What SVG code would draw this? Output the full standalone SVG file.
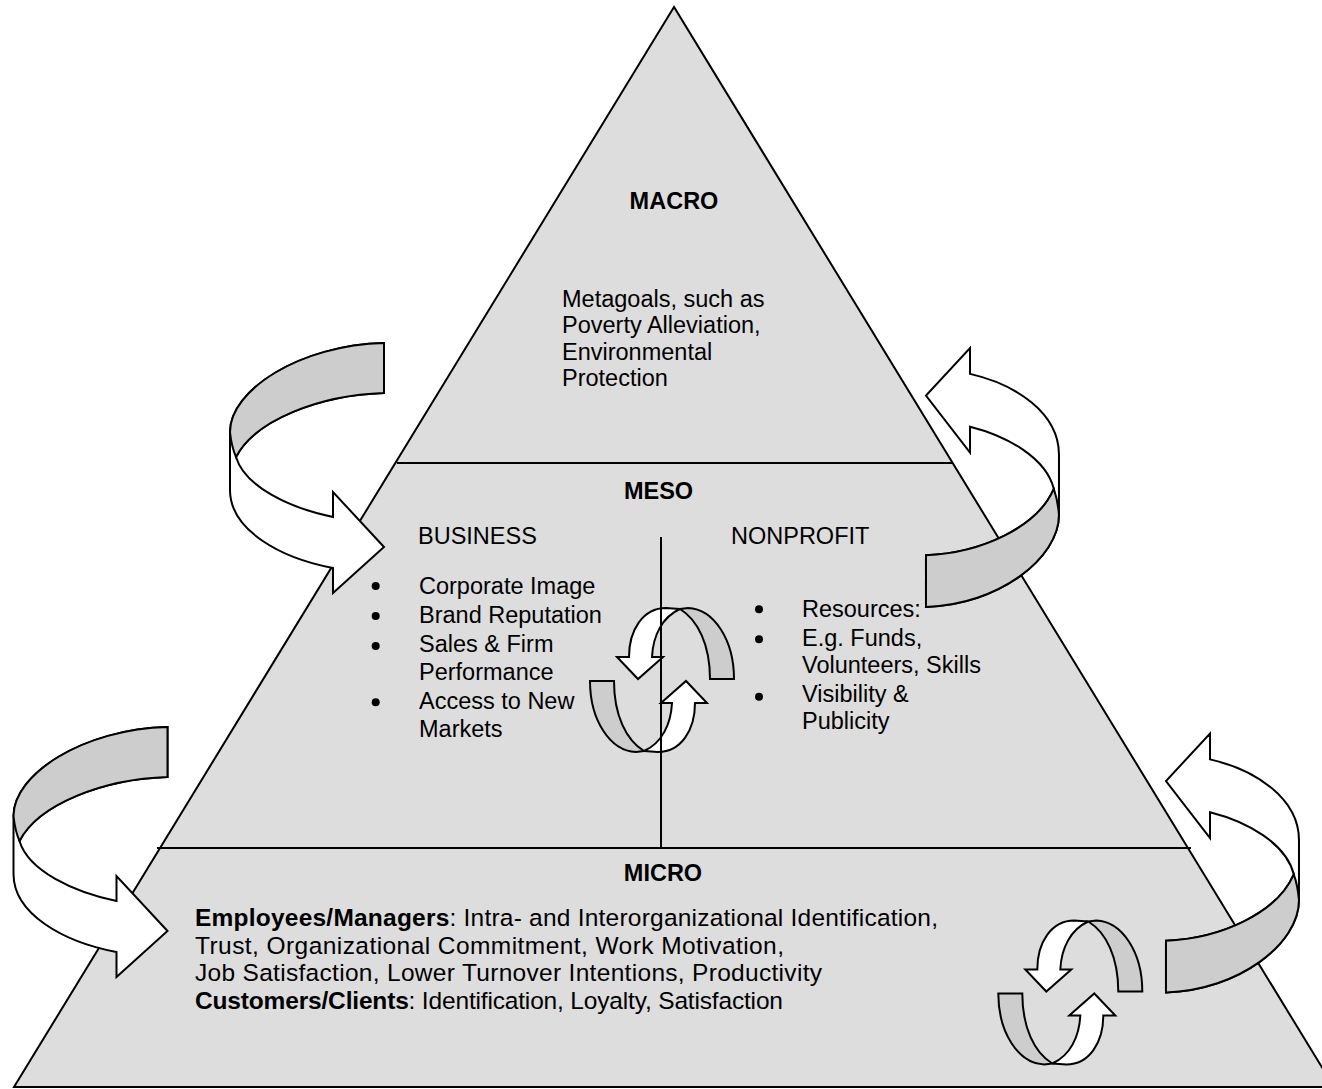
<svg xmlns="http://www.w3.org/2000/svg" xmlns:xlink="http://www.w3.org/1999/xlink" width="1322" height="1089" viewBox="0 0 1322 1089">
<style>
  text { font-family: "Liberation Sans", Arial, sans-serif; font-size: 23.5px; fill: #000; }
  .b { font-weight: bold; }
  .mid { text-anchor: middle; }
  .mt { font-size: 24.5px; }
  .ln { stroke: #000; stroke-width: 2; fill: none; }
  .wh { fill: #fff; stroke: #000; stroke-width: 2; stroke-linejoin: miter; vector-effect: non-scaling-stroke; }
  .gr { fill: #cdcdcd; stroke: #000; stroke-width: 2; vector-effect: non-scaling-stroke; }
</style>
<defs>
  <g id="bigArrow">
    <path class="wh" d="M 384,343 C 300,345 230,390 230,432 L 230,490 C 230,530 280,558 333,568 L 333,593 L 384,547 L 333,492 L 333,517 C 290,508 245,487 236,457 C 255,420 320,395 384,393 Z"/>
    <path class="gr" d="M 384,343 C 300,345 230,390 230,432 C 231,442 233,450 236,457 C 255,420 320,395 384,393 Z"/>
  </g>
  <g id="halfCycle">
    <path class="gr" d="M 680,609 L 688,608 C 714,609 734,640 734,679 L 710,679 C 710,645 698,620 680,609 Z"/>
    <path class="wh" d="M 680,609 L 666,608 C 643,608 629,630 629,657 L 617,657 L 638,679 L 663,657 L 652,657 C 653,636 662,617 680,609 Z"/>
  </g>
  <g id="cycle">
    <use xlink:href="#halfCycle"/>
    <use xlink:href="#halfCycle" transform="rotate(180 662 680)"/>
  </g>
</defs>
<rect width="1322" height="1089" fill="#fff"/>
<g id="pyramid">
  <polygon points="674,7 14,1087 1334,1087" fill="#dddddd" stroke="#000" stroke-width="2" stroke-linejoin="miter"/>
  <line class="ln" x1="397" y1="463" x2="952" y2="463"/>
  <line class="ln" x1="157" y1="848" x2="1191" y2="848"/>
</g>
<g id="macro">
  <text class="b mid" x="674" y="209">MACRO</text>
  <text x="562" y="306.5">Metagoals, such as</text>
  <text x="562" y="333">Poverty Alleviation,</text>
  <text x="562" y="359.5">Environmental</text>
  <text x="562" y="386">Protection</text>
</g>
<g id="meso">
  <text class="b mid" x="658.5" y="499">MESO</text>
  <g id="business">
    <text x="418" y="543.5">BUSINESS</text>
    <circle cx="375.7" cy="586" r="4"/>
    <circle cx="375.7" cy="616" r="4"/>
    <circle cx="375.7" cy="646" r="4"/>
    <circle cx="375.7" cy="702.3" r="4"/>
    <text x="419" y="594">Corporate Image</text>
    <text x="419" y="623.3">Brand Reputation</text>
    <text x="419" y="652">Sales &amp; Firm</text>
    <text x="419" y="680">Performance</text>
    <text x="419" y="709.3">Access to New</text>
    <text x="419" y="736.7">Markets</text>
  </g>
  <g id="nonprofit">
    <text x="731" y="543.5">NONPROFIT</text>
    <circle cx="759" cy="609.3" r="4"/>
    <circle cx="759" cy="639.3" r="4"/>
    <circle cx="759" cy="696.7" r="4"/>
    <text x="802" y="617">Resources:</text>
    <text x="802" y="645.5">E.g. Funds,</text>
    <text x="802" y="673">Volunteers, Skills</text>
    <text x="802" y="702">Visibility &amp;</text>
    <text x="802" y="729">Publicity</text>
  </g>
</g>
<g id="micro">
  <text class="b mid" x="663" y="881">MICRO</text>
  <text class="mt" x="195" y="926" textLength="743" lengthAdjust="spacing"><tspan class="b">Employees/Managers</tspan>: Intra- and Interorganizational Identification,</text>
  <text class="mt" x="195" y="953.5" textLength="589" lengthAdjust="spacing">Trust, Organizational Commitment, Work Motivation,</text>
  <text class="mt" x="195" y="981" textLength="627" lengthAdjust="spacing">Job Satisfaction, Lower Turnover Intentions, Productivity</text>
  <text class="mt" x="195" y="1009" textLength="588" lengthAdjust="spacing"><tspan class="b">Customers/Clients</tspan>: Identification, Loyalty, Satisfaction</text>
</g>
<g id="connectors">
  <use xlink:href="#bigArrow"/>
  <use xlink:href="#bigArrow" transform="translate(-216.5 384)"/>
  <use xlink:href="#bigArrow" transform="matrix(-0.8636 0 0 -1.036 1257.6 962.3)"/>
  <use xlink:href="#bigArrow" transform="matrix(-0.8636 0 0 -1.036 1497.6 1347.8)"/>
  <use xlink:href="#cycle"/>
  <use xlink:href="#cycle" transform="translate(408.3 312.5)"/>
</g>
<line id="divider" class="ln" x1="661" y1="537" x2="661" y2="848"/>
</svg>
